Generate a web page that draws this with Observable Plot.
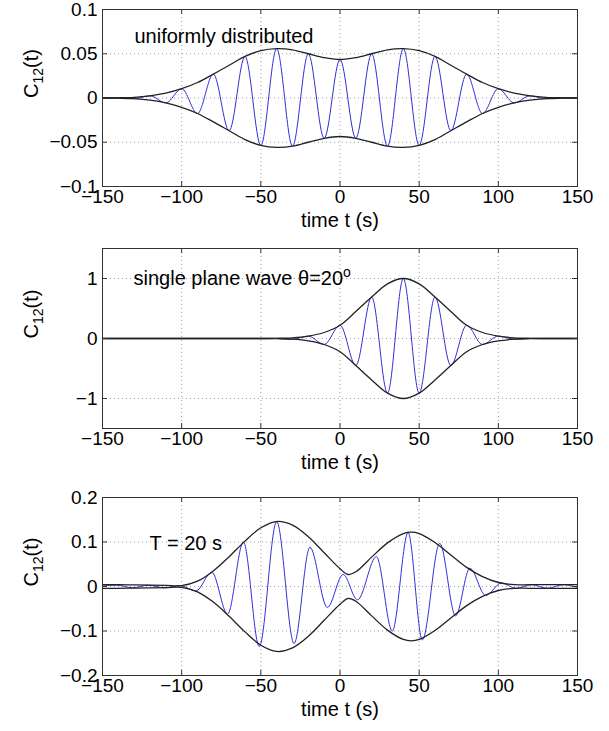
<!DOCTYPE html>
<html><head><meta charset="utf-8">
<script src="https://cdn.jsdelivr.net/npm/d3@7"></script>
<script src="https://cdn.jsdelivr.net/npm/@observablehq/plot@0.6"></script>
<style>
body{margin:0;background:#fff;font-family:"Liberation Sans",Arial,sans-serif;}
#chart{width:609px;height:731px;overflow:hidden;}
#chart svg{display:block;}
</style></head><body><div id="chart"></div>
<script>
// ---- shared axis data ----
const xTicks = [-150, -100, -50, 0, 50, 100, 150];
const xTickLabels = ["−150", "−100", "−50", "0", "50", "100", "150"];
const tGrid = [-150,-140,-130,-120,-110,-100,-90,-80,-70,-60,-50,-40,-30,-20,-10,0,10,20,30,40,50,60,70,80,90,100,110,120,130,140,150];

// ---- panel 1: uniformly distributed ----
const y1Ticks = [-0.1, -0.05, 0, 0.05, 0.1];
const y1TickLabels = ["−0.1", "−0.05", "0", "0.05", "0.1"];
const env1 = [0, 0.0002, 0.0008, 0.0025, 0.0055, 0.0105, 0.0175, 0.027, 0.037, 0.047, 0.0535, 0.0558, 0.0545, 0.050, 0.0455, 0.0435, 0.0455, 0.050, 0.0545, 0.0558, 0.0535, 0.047, 0.037, 0.027, 0.0175, 0.0105, 0.0055, 0.0025, 0.0008, 0.0002, 0];
const wave1 = [0, 0.0002, -0.0008, 0.0025, -0.0055, 0.0105, -0.0175, 0.027, -0.037, 0.047, -0.0535, 0.0558, -0.0545, 0.050, -0.0455, 0.0435, -0.0455, 0.050, -0.0545, 0.0558, -0.0535, 0.047, -0.037, 0.027, -0.0175, 0.0105, -0.0055, 0.0025, -0.0008, 0.0002, 0];

// ---- panel 2: single plane wave ----
const y2Ticks = [-1, 0, 1];
const y2TickLabels = ["−1", "0", "1"];
const env2 = [0,0,0,0,0,0,0,0,0,0,0, 0.003, 0.012, 0.04, 0.10, 0.22, 0.45, 0.69, 0.91, 1.0, 0.91, 0.69, 0.45, 0.22, 0.10, 0.04, 0.012, 0.003, 0, 0, 0];
const wave2 = [0,0,0,0,0,0,0,0,0,0,0, 0.003, -0.012, 0.04, -0.10, 0.22, -0.45, 0.69, -0.91, 1.0, -0.91, 0.69, -0.45, 0.22, -0.10, 0.04, -0.012, 0.003, 0, 0, 0];

// ---- panel 3: T = 20 s ----
const y3Ticks = [-0.2, -0.1, 0, 0.1, 0.2];
const y3TickLabels = ["−0.2", "−0.1", "0", "0.1", "0.2"];
const env3T = [-150,-140,-130,-120,-110,-100,-90,-80,-70,-60,-50,-40,-30,-20,-10,0,5,10,20,30,40,45,50,60,70,80,90,100,110,120,130,140,150];
const env3 = [0.004, 0.004, 0.0035, 0.003, 0.0025, 0.002, 0.012, 0.035, 0.067, 0.102, 0.132, 0.146, 0.138, 0.112, 0.076, 0.040, 0.027, 0.033, 0.066, 0.098, 0.119, 0.122, 0.119, 0.099, 0.071, 0.043, 0.022, 0.009, 0.004, 0.004, 0.004, 0.004, 0.004];
const wave3T = [-150,-141,-131,-121,-111,-101,-91,-81,-71,-61,-51,-40,-29,-19,-8,2,11,23,33,43,52,63,73,82,92,102,111,121,131,141,150];
const wave3 = [0.001, 0.003, -0.003, 0.003, -0.003, 0.002, -0.010, 0.032, -0.062, 0.100, -0.135, 0.146, -0.128, 0.088, -0.047, 0.027, -0.030, 0.067, -0.100, 0.121, -0.120, 0.097, -0.066, 0.041, -0.020, 0.008, -0.004, 0.004, -0.004, 0.004, -0.002];

const FONT = "Liberation Sans, Arial, Helvetica, sans-serif";

function panel({h, mt, mb, yDomain, yTicks, yTickLabels, envT, env, waveT, wave, note, noteDx, noteDy}) {
  const W = 609, ml = 102, mr = 32;
  const ph = h - mt - mb, pw = W - ml - mr;
  const envData = envT.map((t, i) => ({t, v: env[i]}));
  const waveData = waveT.map((t, i) => ({t, v: wave[i]}));
  const svg = Plot.plot({
    width: W, height: h,
    marginLeft: ml, marginRight: mr, marginTop: mt, marginBottom: mb,
    style: {fontFamily: FONT, fontSize: "19px", background: "#fff", color: "#000", overflow: "visible"},
    x: {domain: [-150, 150]},
    y: {domain: yDomain},
    marks: [
      Plot.gridX(xTicks, {stroke: "#a0a0a0", strokeOpacity: 1, strokeDasharray: "1,3"}),
      Plot.gridY(yTicks, {stroke: "#a0a0a0", strokeOpacity: 1, strokeDasharray: "1,3"}),
      Plot.line(waveData, {x: "t", y: "v", curve: "monotone-x", stroke: "#3030d8", strokeWidth: 1}),
      Plot.line(envData, {x: "t", y: "v", curve: "catmull-rom", stroke: "#222", strokeWidth: 1.3}),
      Plot.line(envData, {x: "t", y: d => -d.v, curve: "catmull-rom", stroke: "#222", strokeWidth: 1.3}),
      Plot.tickX(xTicks, {x: d => d, insetBottom: ph - 5, stroke: "#333"}),
      Plot.tickX(xTicks, {x: d => d, insetTop: ph - 5, stroke: "#333"}),
      Plot.tickY(yTicks, {y: d => d, insetRight: pw - 5, stroke: "#333"}),
      Plot.tickY(yTicks, {y: d => d, insetLeft: pw - 5, stroke: "#333"}),
      Plot.frame({stroke: "#333"}),
      Plot.axisX(xTicks, {tickSize: 0, tickPadding: 3, tickFormat: d => xTickLabels[xTicks.indexOf(d)], label: null, fontSize: 19}),
      Plot.axisY(yTicks, {tickSize: 0, tickPadding: 5, tickFormat: d => yTickLabels[yTicks.indexOf(d)], label: null, fontSize: 19}),
      Plot.text(["time t (s)"], {frameAnchor: "bottom", lineAnchor: "middle", dy: 34, fontSize: 20}),
      Plot.text(["C12(t)"], {frameAnchor: "left", lineAnchor: "middle", dx: -71, rotate: -90, fontSize: 20}),
      Plot.text([note], {frameAnchor: "top-left", lineAnchor: "middle", dx: noteDx, dy: noteDy, textAnchor: "start", fontSize: 20})
    ]
  });
  const s = d3.select(svg);
  s.selectAll("text").filter(function() { return this.textContent === "C12(t)"; }).each(function() {
    const t = d3.select(this); t.text(null);
    t.append("tspan").text("C");
    t.append("tspan").attr("dy", 5).attr("font-size", 14).text("12");
    t.append("tspan").attr("dy", -5).text("(t)");
  });
  s.selectAll("text").filter(function() { return this.textContent === "single plane wave θ=20o"; }).each(function() {
    const t = d3.select(this); t.text(null);
    t.append("tspan").text("single plane wave θ=20");
    t.append("tspan").attr("dy", -8).attr("font-size", 14).text("o");
  });
  return svg;
}

const chart = document.getElementById("chart");
chart.appendChild(panel({h: 243, mt: 9, mb: 57, yDomain: [-0.1, 0.1], yTicks: y1Ticks, yTickLabels: y1TickLabels,
  envT: tGrid, env: env1, waveT: tGrid, wave: wave1, note: "uniformly distributed", noteDx: 32, noteDy: 27}));
chart.appendChild(panel({h: 243, mt: 5, mb: 58, yDomain: [-1.5, 1.5], yTicks: y2Ticks, yTickLabels: y2TickLabels,
  envT: tGrid, env: env2, waveT: tGrid, wave: wave2, note: "single plane wave θ=20o", noteDx: 31, noteDy: 30}));
chart.appendChild(panel({h: 245, mt: 11, mb: 56, yDomain: [-0.2, 0.2], yTicks: y3Ticks, yTickLabels: y3TickLabels,
  envT: env3T, env: env3, waveT: wave3T, wave: wave3, note: "T = 20 s", noteDx: 47, noteDy: 46}));
</script>
</body></html>
